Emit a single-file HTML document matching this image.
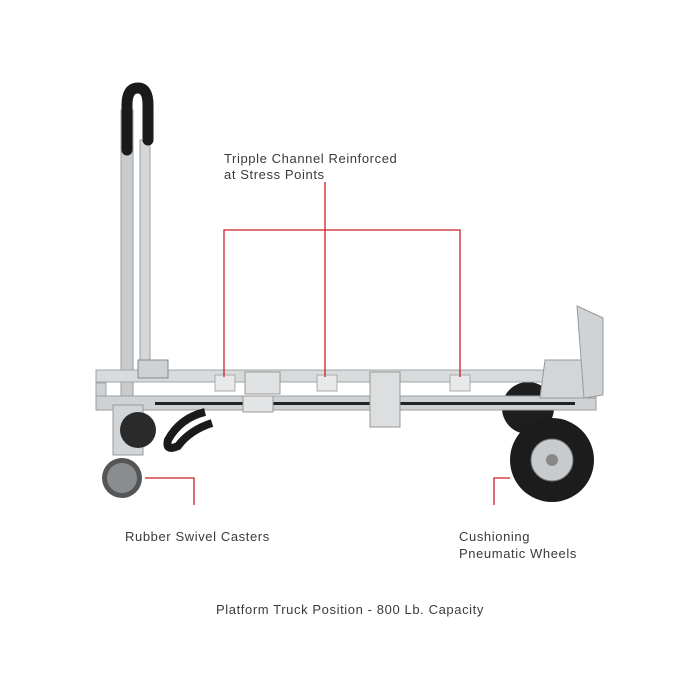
<!DOCTYPE html>
<html><head><style>
body{margin:0;background:#fff;}
svg{display:block}
text{font-family:"Liberation Sans",sans-serif;fill:#3a3a3a;font-size:13px;letter-spacing:0.6px;}
</style></head><body>
<svg width="700" height="700" viewBox="0 0 700 700">
<rect width="700" height="700" fill="#fff"/>
<!-- back wheel -->
<circle cx="528" cy="408" r="26" fill="#1e1e1e"/>
<!-- handle tubes -->
<rect x="121" y="110" width="12" height="300" fill="#c9ccce" stroke="#9a9ea2" stroke-width="1"/>
<rect x="140" y="140" width="10" height="225" fill="#d4d7d9" stroke="#9a9ea2" stroke-width="1"/>
<path d="M127 150 L127 105 Q127 88 138 88 Q148 88 148 105 L148 140" fill="none" stroke="#1a1a1a" stroke-width="11" stroke-linecap="round"/>
<!-- rails -->
<rect x="96" y="370" width="495" height="12" fill="#d8dadc" stroke="#a0a4a8"/>
<rect x="96" y="383" width="10" height="22" fill="#cfd2d4" stroke="#a0a4a8"/>
<rect x="96" y="396" width="500" height="14" fill="#cfd2d4" stroke="#9a9ea2"/>
<rect x="155" y="402" width="420" height="3" fill="#222"/>
<!-- plates -->
<rect x="215" y="375" width="20" height="16" fill="#e8e9ea" stroke="#aaa"/>
<rect x="245" y="372" width="35" height="22" fill="#e0e2e3" stroke="#999"/>
<rect x="317" y="375" width="20" height="16" fill="#e8e9ea" stroke="#aaa"/>
<rect x="370" y="372" width="30" height="55" fill="#dcdedf" stroke="#999"/>
<rect x="450" y="375" width="20" height="16" fill="#e8e9ea" stroke="#aaa"/>
<rect x="243" y="396" width="30" height="16" fill="#e3e4e5" stroke="#999"/>
<rect x="138" y="360" width="30" height="18" fill="#cfd2d4" stroke="#888"/>
<!-- nose plate -->
<path d="M545 360 L590 360 L596 398 L540 398 Z" fill="#d3d6d8" stroke="#999"/>
<path d="M577 306 L603 318 L603 395 L584 398 Z" fill="#d0d3d5" stroke="#999"/>
<!-- rear handle loop -->
<path d="M205 412 Q180 418 168 440 Q165 452 178 446 Q190 430 212 423" fill="none" stroke="#1a1a1a" stroke-width="8"/>
<!-- casters -->
<rect x="113" y="405" width="30" height="50" fill="#d2d5d7" stroke="#999"/>
<circle cx="138" cy="430" r="18" fill="#2a2a2a"/>
<circle cx="122" cy="478" r="20" fill="#555"/>
<circle cx="122" cy="478" r="15" fill="#8a8d90"/>
<!-- big wheel -->
<circle cx="552" cy="460" r="42" fill="#1c1c1c"/>
<circle cx="552" cy="460" r="21" fill="#c8cbcd" stroke="#777"/>
<circle cx="552" cy="460" r="6" fill="#888"/>
<!-- red callouts -->
<g stroke="#c8202a" stroke-width="1.3" fill="none">
<path d="M224 377 V230 H460 V377"/>
<path d="M325 182 V377"/>
<path d="M145 478 H194 V505"/>
<path d="M510 478 H494 V505"/>
</g>
<text x="224" y="163">Tripple Channel Reinforced</text>
<text x="224" y="179">at Stress Points</text>
<text x="125" y="541">Rubber Swivel Casters</text>
<text x="459" y="541">Cushioning</text>
<text x="459" y="558">Pneumatic Wheels</text>
<text x="350" y="614" text-anchor="middle">Platform Truck Position - 800 Lb. Capacity</text>
</svg>
</body></html>
